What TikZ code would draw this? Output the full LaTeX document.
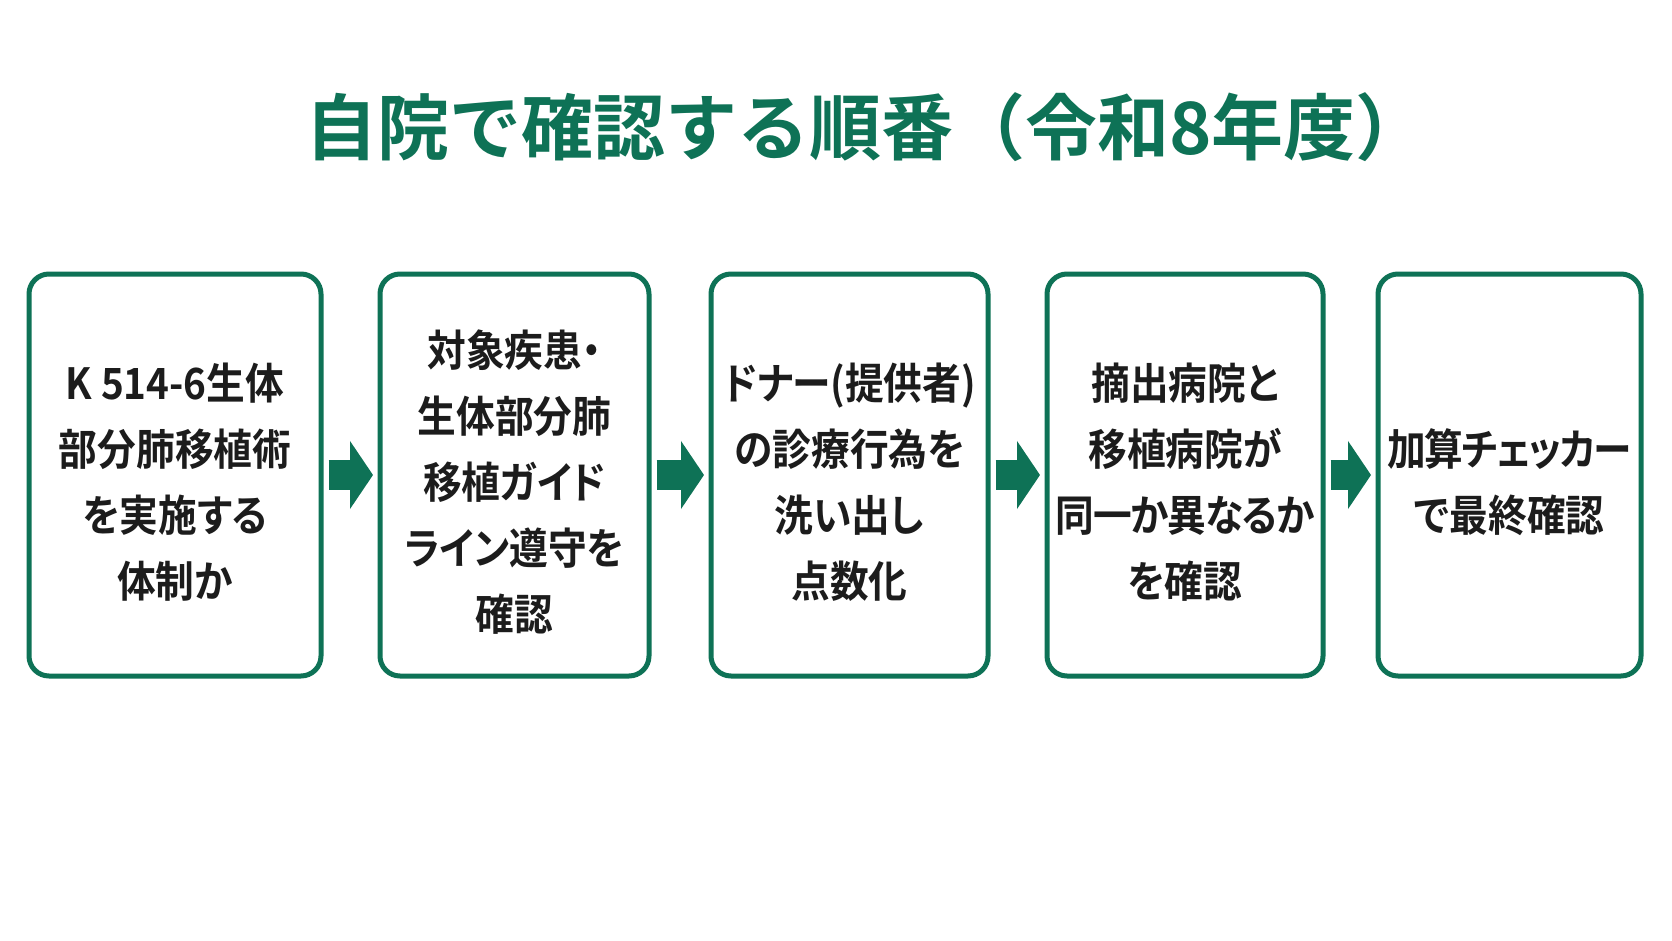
\documentclass[tikz,border=0pt]{standalone}
\usepackage{fontspec}
\usetikzlibrary{arrows.meta}
\newfontfamily\jpb{Noto Sans CJK JP Bold}[RawFeature=+palt, FakeStretch=0.9]
\newfontfamily\jpt{Noto Sans CJK JP Bold}
\definecolor{kgreen}{HTML}{0E7256}
\definecolor{inkc}{HTML}{1C1C1C}
\newcommand\topgap{\rule{0pt}{51pt}}
\tikzset{
  stepbox/.style={draw=kgreen, line width=5pt, rounded corners=20pt, fill=white,
    minimum height=402pt, align=center, text=inkc,
    font=\jpb\fontsize{43}{66}\selectfont, inner sep=0pt},
  flowarrow/.style={draw=kgreen, line width=30pt,
    -{Triangle[length=23pt,width=67pt]}, shorten <=5pt, shorten >=4.5pt},
  titletext/.style={font=\jpt\fontsize{72}{80}\selectfont, text=kgreen, inner sep=0pt}
}
\begin{document}
\begin{tikzpicture}[x=1pt,y=-1pt]
\useasboundingbox (0,0) rectangle (1672,941);
\fill[white] (0,0) rectangle (1672,941);
\node[titletext, anchor=west] (title) at (305,127) {自院で確認する順番（令和8年度）};
\node[stepbox, minimum width=292pt] (b1) at (175,475) {\topgap K 514-6生体\\部分肺移植術\\を実施する\\体制か};
\node[stepbox, minimum width=269pt] (b2) at (514.5,475) {\topgap 対象疾患・\\生体部分肺\\移植ガイド\\ライン遵守を\\確認};
\node[stepbox, minimum width=277pt] (b3) at (849.5,475) {\topgap ドナー(提供者)\\の診療行為を\\洗い出し\\点数化};
\node[stepbox, minimum width=276pt] (b4) at (1185,475) {\topgap 摘出病院と\\移植病院が\\{\addfontfeature{LetterSpace=-3}同一か異なるか}\\を確認};
\node[stepbox, minimum width=263pt] (b5) at (1509.5,475) {\topgap{\addfontfeature{LetterSpace=-4}加算チェッカー}\\で最終確認};
\draw[flowarrow] (b1) -- (b2);
\draw[flowarrow] (b2) -- (b3);
\draw[flowarrow] (b3) -- (b4);
\draw[flowarrow] (b4) -- (b5);
\end{tikzpicture}
\end{document}
